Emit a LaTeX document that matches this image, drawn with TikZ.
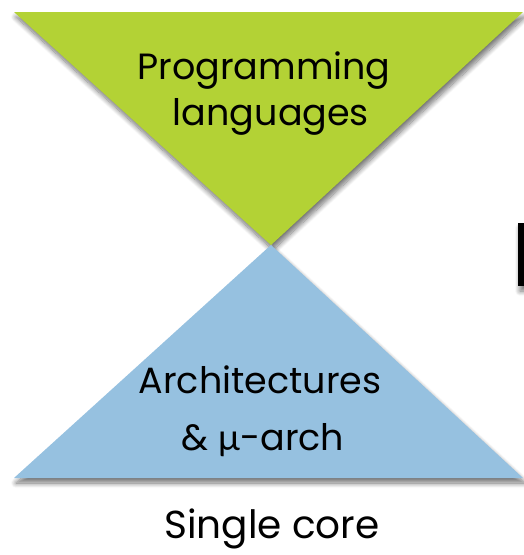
\documentclass[tikz,border=0pt]{standalone}
\usepackage{fontspec}
\setmainfont{Poppins}
\newfontfamily\greekfont{Lato}
\usetikzlibrary{shadows.blur}
\definecolor{limegreen}{RGB}{179,210,53}
\definecolor{skyblue}{RGB}{150,193,224}
\tikzset{
  soft shadow/.style={blur shadow={shadow xshift=2pt, shadow yshift=-5pt,
      shadow blur radius=5pt, shadow blur steps=10, shadow opacity=55}},
  label text/.style={font=\fontsize{36.5}{42}\selectfont, anchor=base, inner sep=0pt},
  caption text/.style={font=\fontsize{39}{44}\selectfont, anchor=base, inner sep=0pt}
}
\begin{document}
\begin{tikzpicture}[x=1pt,y=-1pt]
  \useasboundingbox (0,0) rectangle (523,555);
  % upper (inverted) triangle
  \fill[limegreen, soft shadow] (14,12) -- (523,12) -- (271,245) -- cycle;
  % lower triangle
  \fill[skyblue, soft shadow] (271,245) -- (523,478) -- (14,478) -- cycle;
  % edge of a letter entering from the right
  \fill[black, soft shadow] (518,223) rectangle (530,286);
  % labels
  \node[label text] (prog1) at (264,79) {Programming};
  \node[label text] (prog2) at (271,125) {languages};
  \node[label text] (arch1) at (260,393) {Architectures};
  \node[label text] (arch2) at (263,450) {\& {\greekfont μ}-arch};
  \node[caption text] (single) at (272,538) {Single core};
\end{tikzpicture}
\end{document}
